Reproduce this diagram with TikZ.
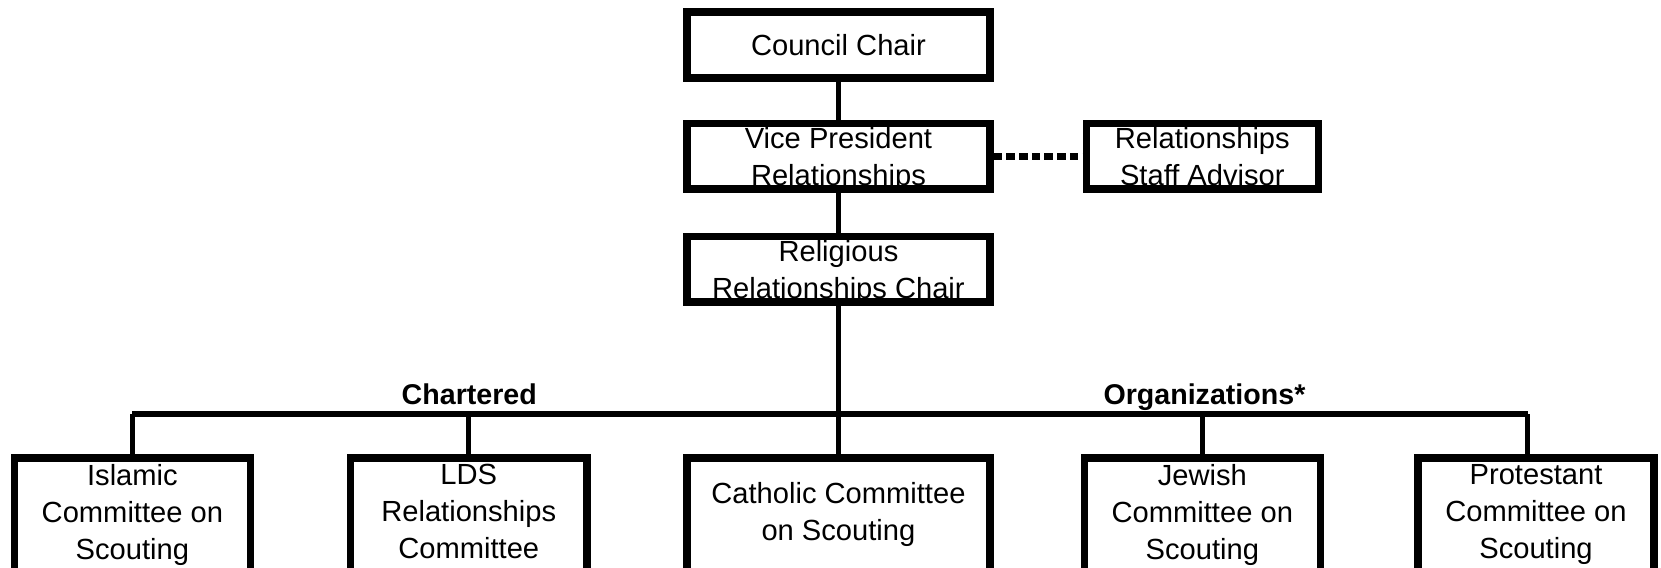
\documentclass[tikz,border=0pt]{standalone}
\usepackage{fontspec}
\setmainfont{Liberation Sans}
\usetikzlibrary{positioning}

\begin{document}
\begin{tikzpicture}
	[x=1pt, y=1pt, inner sep=0pt,
	font=\fontsize{27.5}{35}\selectfont,
	office/.style	= {rectangle, draw, line width=7pt, align=center, text depth=0pt, minimum width=286pt, minimum height=62pt},
	advisor/.style	= {office, minimum width=219pt},
	committee/.style	= {office, text depth=13pt, minimum width=223pt, minimum height=114pt},
	link/.style	= {line width=5pt},
	bus/.style	= {line width=6pt},
	staffline/.style	= {line width=7pt, dash pattern=on 8pt off 4pt},
	group/.style	= {anchor=base, font=\fontsize{27}{35}\selectfont\bfseries}]
	
	\useasboundingbox (0,0) rectangle (1568,536);
	
	\node at (791.5, 493.5)	[office]	(chair)	{Council Chair};
	\node at (791.5, 388.5)	[office]	(vp)	{Vice President\\Relationships};
	\node at (1135, 388.5)	[advisor]	(staff)	{Relationships\\Staff Advisor};
	\node at (791.5, 282)	[office]	(relig)	{Religious\\Relationships Chair};
	
	\node at (125, 46.5)	[committee]	(islam)	{Islamic\\Committee on\\Scouting};
	\node at (442.5, 46.5)	[committee]	(lds)	{LDS\\Relationships\\Committee};
	\node at (791.5, 46.5)	[committee, minimum width=286pt]	(cath)	{Catholic Committee\\on Scouting};
	\node at (1135, 46.5)	[committee]	(jew)	{Jewish\\Committee on\\Scouting};
	\node at (1450, 46.5)	[committee]	(prot)	{Protestant\\Committee on\\Scouting};
	
	\node at (443, 154)	[group]	(chartered)	{Chartered};
	\node at (1137, 154)	[group]	(orgs)	{Organizations*};
	
	\coordinate (busL) at (125, 145);
	\coordinate (busR) at (1442, 145);
	
	\draw [link] (chair) -- (vp);
	\draw [link] (vp) -- (relig);
	\draw [staffline] (vp.east) -- (staff.west);
	\draw [link] (relig) -- (cath);
	
	\draw [bus] (busL) -- (busR);
	\draw [link] (busL) -- (islam);
	\draw [link] (lds |- busL) -- (lds);
	\draw [link] (jew |- busL) -- (jew);
	\draw [link] (busR) -- (busR |- prot.north);
\end{tikzpicture}
\end{document}
